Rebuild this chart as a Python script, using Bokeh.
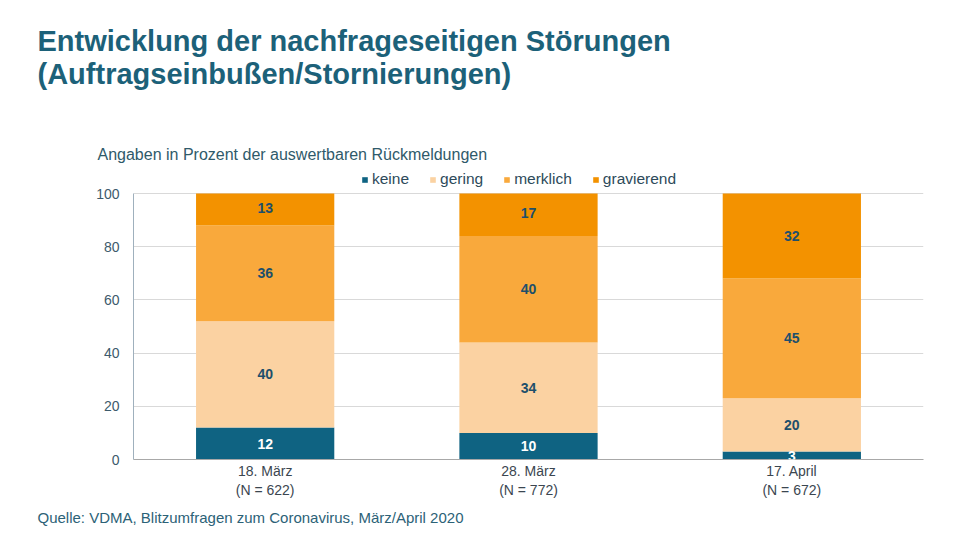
import numpy as np
from bokeh.plotting import figure
from bokeh.models import (ColumnDataSource, FactorRange, Range1d, LabelSet, Title,
                          Legend, LegendItem, FixedTicker)
from bokeh.core.properties import value
from bokeh.embed import file_html
from bokeh.resources import INLINE

# ---- data ----
categories = ["18. März\n(N = 622)", "28. März\n(N = 772)", "17. April\n(N = 672)"]
series = ["keine", "gering", "merklich", "gravierend"]
keine = [12, 10, 3]
gering = [40, 34, 20]
merklich = [36, 40, 45]
gravierend = [13, 17, 32]
y_ticks = [0, 20, 40, 60, 80, 100]

title_line1 = "Entwicklung der nachfrageseitigen Störungen"
title_line2 = "(Auftragseinbußen/Stornierungen)"
subtitle = "Angaben in Prozent der auswertbaren Rückmeldungen"
source_txt = "Quelle: VDMA, Blitzumfragen zum Coronavirus, März/April 2020"

colors = ["#0f6382", "#fbd2a2", "#f9a93c", "#f39200"]
FONT = "Liberation Sans"
TEAL = "#1c6179"

W, H = 952, 532
FL, FT, FR, FB = 133, 165, 923, 459   # frame edges in page px (top includes legend row)
PX_PER_UNIT = 2.66                    # 100 % = 266 px
Y_MAX = (FB - FT) / PX_PER_UNIT

vals = np.array([keine, gering, merklich, gravierend], dtype=float)
tops = np.minimum(np.cumsum(vals, axis=0), 100)
bottoms = np.vstack([np.zeros(len(categories)), tops[:-1]])
mids = np.cumsum(vals, axis=0) - vals / 2

p = figure(x_range=FactorRange(*categories, range_padding=0), y_range=Range1d(0, Y_MAX),
           width=W, height=H, output_backend="svg", toolbar_location=None,
           title_location=None,
           min_border_left=FL, min_border_right=W - FR,
           min_border_top=FT, min_border_bottom=H - FB)
p.outline_line_color = None

renderers = []
for i, s in enumerate(series):
    src = ColumnDataSource(dict(cat=categories, bottom=bottoms[i], top=tops[i]))
    r = p.vbar(x="cat", bottom="bottom", top="top", width=0.525, source=src,
               color=colors[i], line_color=None)
    renderers.append(r)

lab_x, lab_y, lab_t, lab_c = [], [], [], []
for i, s in enumerate(series):
    for j, c in enumerate(categories):
        lab_x.append(c)
        lab_y.append(mids[i, j])
        lab_t.append(str(int(vals[i, j])))
        lab_c.append("white" if s == "keine" else "#1d4f6b")
lsrc = ColumnDataSource(dict(x=lab_x, y=lab_y, t=lab_t, c=lab_c))
p.add_layout(LabelSet(x="x", y="y", text="t", source=lsrc, text_align="center",
                      text_baseline="middle", text_font=value(FONT), text_font_size="14px",
                      text_font_style="bold", text_color="c"))

p.yaxis.ticker = FixedTicker(ticks=y_ticks)
p.yaxis.bounds = (0, 100)
p.yaxis.major_tick_line_color = None
p.yaxis.minor_tick_line_color = None
p.yaxis.axis_line_color = "#9fb0bd"
p.yaxis.major_label_text_font = FONT
p.yaxis.major_label_text_font_size = "14px"
p.yaxis.major_label_text_color = "#3d5a6c"
p.yaxis.major_label_standoff = 8
p.xaxis.major_tick_line_color = None
p.xaxis.minor_tick_line_color = None
p.xaxis.axis_line_color = "#a8a8a8"
p.xaxis.major_label_text_font = FONT
p.xaxis.major_label_text_font_size = "14px"
p.xaxis.major_label_text_color = "#3b4650"
p.xaxis.major_label_standoff = -3
p.xgrid.grid_line_color = None
p.ygrid.grid_line_color = "#d9d9d9"

legend = Legend(items=[LegendItem(label=s, renderers=[r]) for s, r in zip(series, renderers)],
                orientation="horizontal", location=(361 - FL, FB - 188),
                glyph_width=7, glyph_height=7, label_standoff=4, spacing=20,
                padding=0, margin=0, border_line_color=None, background_fill_alpha=0,
                label_text_font=FONT, label_text_font_size="15.5px",
                label_text_color="#2d4a5a", label_height=16)
p.add_layout(legend, "center")

# texts in the above panel (added from the frame outward)
p.add_layout(Title(text=subtitle, align="left", offset=97 - FL, standoff=6,
                   text_font=FONT, text_font_size="16px", text_font_style="normal",
                   text_color="#2f5a6a"), "above")
p.add_layout(Title(text=title_line1 + "\n" + title_line2 + "\n", align="left",
                   vertical_align="top", offset=37 - FL, standoff=33,
                   text_font=FONT, text_font_size="29px", text_font_style="bold",
                   text_line_height=1.02, text_color=TEAL), "above")

p.add_layout(Title(text=source_txt, align="left", offset=37 - FL, standoff=13,
                   text_font=FONT, text_font_size="15px", text_font_style="normal",
                   text_color="#2c6277"), "below")

open("out.html", "w").write(file_html(p, INLINE))
